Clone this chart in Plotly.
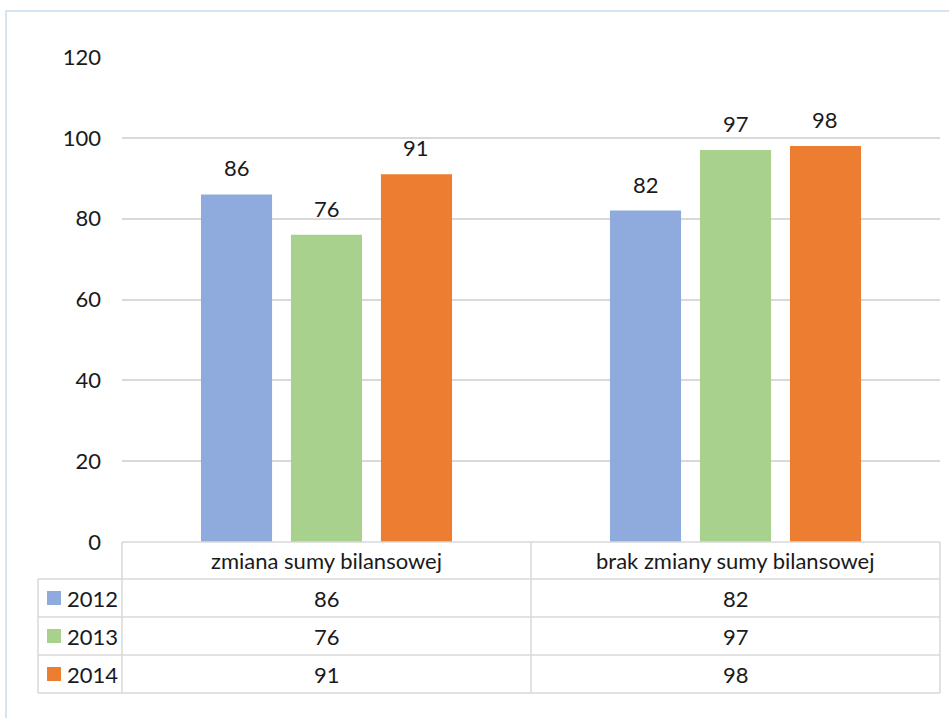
import plotly.graph_objects as go

categories = ["zmiana sumy bilansowej", "brak zmiany sumy bilansowej"]
series_names = ["2012", "2013", "2014"]
values_2012 = [86, 82]
values_2013 = [76, 97]
values_2014 = [91, 98]
colors = ["#8faadc", "#a9d18e", "#ed7d31"]
y_ticks = [0, 20, 40, 60, 80, 100, 120]

series_values = [values_2012, values_2013, values_2014]

W, H = 949, 718
L, R, T, B = 122, 940, 57, 542          # plot area in px
FONT = "Lato"
FS = 22
TXT = "#1a1a1a"
GRID = "#d9d9d9"
BARGAP, GROUPGAP = 0.34, 0.21

pw, ph = R - L, B - T
def px_x(x):  # pixel -> paper x
    return (x - L) / pw
def px_y(y):  # pixel -> paper y
    return (B - y) / ph

fig = go.Figure()
for name, vals, col in zip(series_names, series_values, colors):
    fig.add_trace(go.Bar(x=categories, y=vals, name=name, marker_color=col,
                         marker_line_width=0, showlegend=False))

# data labels above bars
slot = (1 - BARGAP) / 3
annotations = []
for i, vals in enumerate(series_values):
    for j, v in enumerate(vals):
        annotations.append(dict(x=j + (i - 1) * slot, y=v, xref="x", yref="y",
                                text=str(v), showarrow=False, yanchor="bottom",
                                xanchor="center", yshift=11,
                                font=dict(family=FONT, size=FS, color=TXT)))

# data table
row_edges = [542, 579, 617, 655, 693]
shapes = []
line = dict(color=GRID, width=1.5)
# horizontal lines
shapes.append(dict(type="line", xref="paper", yref="paper", x0=0, x1=1,
                   y0=px_y(row_edges[0]), y1=px_y(row_edges[0]), line=line, layer="above"))
for y in row_edges[1:]:
    shapes.append(dict(type="line", xref="paper", yref="paper", x0=px_x(38), x1=1,
                       y0=px_y(y), y1=px_y(y), line=line))
# vertical lines
for xp in [0, 1]:
    shapes.append(dict(type="line", xref="paper", yref="paper", x0=xp, x1=xp,
                       y0=px_y(row_edges[0]), y1=px_y(row_edges[-1]), line=line))
shapes.append(dict(type="line", xref="x", yref="paper", x0=0.5, x1=0.5,
                   y0=px_y(row_edges[0]), y1=px_y(row_edges[-1]), line=line))
shapes.append(dict(type="line", xref="paper", yref="paper", x0=px_x(38), x1=px_x(38),
                   y0=px_y(row_edges[1]), y1=px_y(row_edges[-1]), line=line))

# header row: category names
hc = (row_edges[0] + row_edges[1]) / 2
for j, c in enumerate(categories):
    annotations.append(dict(x=j, y=px_y(hc), xref="x", yref="paper", text=c,
                            xanchor="center", yanchor="middle", showarrow=False,
                            font=dict(family=FONT, size=FS, color=TXT)))
# series rows
for i, (name, vals, col) in enumerate(zip(series_names, series_values, colors)):
    cy = (row_edges[i + 1] + row_edges[i + 2]) / 2
    shapes.append(dict(type="rect", xref="paper", yref="paper", x0=px_x(47), x1=px_x(61),
                       y0=px_y(cy + 7), y1=px_y(cy - 7), fillcolor=col, line_width=0))
    annotations.append(dict(x=px_x(65), y=px_y(cy), xref="paper", yref="paper", text=name,
                            xanchor="left", yanchor="middle", showarrow=False,
                            font=dict(family=FONT, size=FS, color=TXT)))
    for j, v in enumerate(vals):
        annotations.append(dict(x=j, y=px_y(cy), xref="x", yref="paper", text=str(v),
                                xanchor="center", yanchor="middle", showarrow=False,
                                font=dict(family=FONT, size=FS, color=TXT)))

# outer chart border
shapes.append(dict(type="rect", xref="paper", yref="paper", x0=px_x(6), x1=px_x(980),
                   y0=px_y(760), y1=px_y(11), line=dict(color="#c5dcf2", width=1.5)))

fig.update_layout(
    width=W, height=H,
    margin=dict(l=L, r=W - R, t=T, b=H - B, pad=0),
    paper_bgcolor="white", plot_bgcolor="white",
    barmode="group", bargap=BARGAP, bargroupgap=GROUPGAP,
    font=dict(family=FONT, size=FS, color=TXT),
    xaxis=dict(showticklabels=False, showgrid=False, zeroline=False, showline=False,
               ticks=""),
    yaxis=dict(range=[0, 120], tickvals=y_ticks, showgrid=True, gridcolor=GRID,
               gridwidth=1.5, zeroline=False, showline=False, ticks="",
               ticklabelstandoff=20, tickfont=dict(family=FONT, size=FS, color=TXT)),
    shapes=shapes, annotations=annotations,
)

fig.write_html("out.html")
